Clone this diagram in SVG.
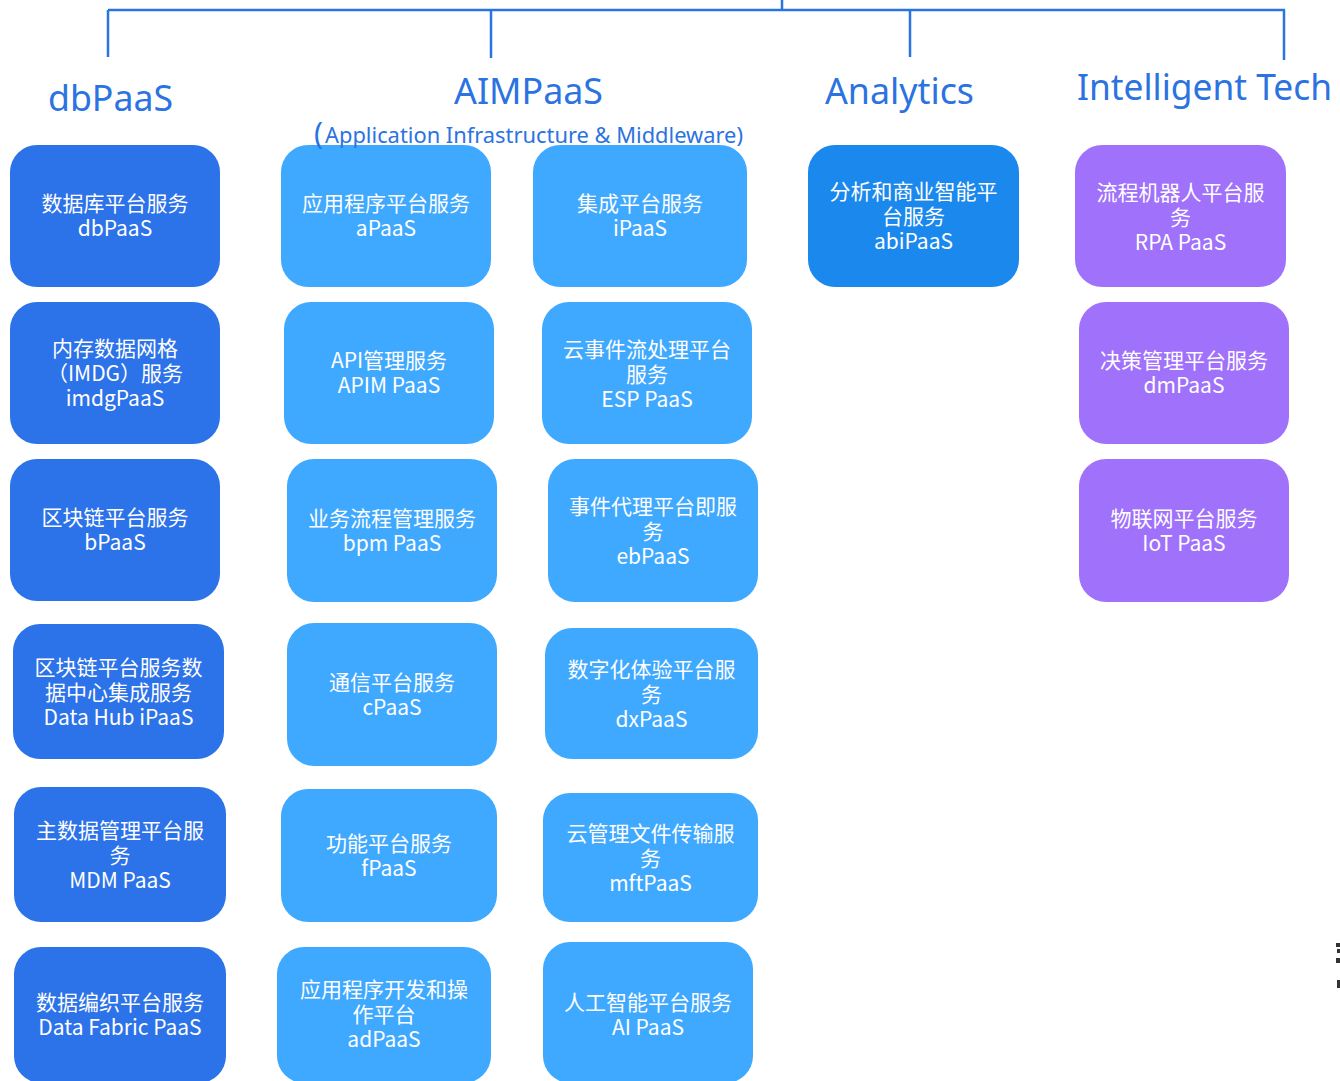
<svg xmlns="http://www.w3.org/2000/svg" width="1340" height="1081" viewBox="0 0 1340 1081">
<style>
.line{stroke:#2a74e2;stroke-width:2.5;fill:none}
.hdr{font-family:"Noto Sans","Noto Sans CJK SC",sans-serif;fill:#2a73e0}
.box{stroke:none}
.db{fill:#2c72e8}
.aim{fill:#3fa9ff}
.ana{fill:#1a88ec}
.it{fill:#a071fb}
.lbl{font-family:"Noto Sans CJK SC","Noto Sans",sans-serif;font-size:21px;fill:#ffffff;text-anchor:middle}
</style>
<rect width="1340" height="1081" fill="#ffffff"/>
<g id="connectors">
<line class="line" x1="108" y1="10" x2="1285" y2="10"/>
<line class="line" x1="782" y1="0" x2="782" y2="10"/>
<line class="line" x1="108" y1="10" x2="108" y2="57"/>
<line class="line" x1="491" y1="10" x2="491" y2="58"/>
<line class="line" x1="910" y1="10" x2="910" y2="57"/>
<line class="line" x1="1284" y1="10" x2="1284" y2="60"/>
</g>
<g id="n-dbpaas"><rect class="box db" x="10" y="145" width="210" height="142" rx="27"/><text class="lbl"><tspan x="115" y="211">数据库平台服务</tspan><tspan x="115" y="236">dbPaaS</tspan></text></g>
<g id="n-imdg"><rect class="box db" x="10" y="302" width="210" height="142" rx="27"/><text class="lbl"><tspan x="115" y="355.5">内存数据网格</tspan><tspan x="115" y="380.5">（IMDG）服务</tspan><tspan x="115" y="405.5">imdgPaaS</tspan></text></g>
<g id="n-bpaas"><rect class="box db" x="10" y="459" width="210" height="142" rx="27"/><text class="lbl"><tspan x="115" y="525">区块链平台服务</tspan><tspan x="115" y="550">bPaaS</tspan></text></g>
<g id="n-datahub"><rect class="box db" x="13" y="624" width="211" height="135" rx="27"/><text class="lbl"><tspan x="118.5" y="674.5">区块链平台服务数</tspan><tspan x="118.5" y="699.5">据中心集成服务</tspan><tspan x="118.5" y="724.5">Data Hub iPaaS</tspan></text></g>
<g id="n-mdm"><rect class="box db" x="14" y="787" width="212" height="135" rx="27"/><text class="lbl"><tspan x="120" y="837.5">主数据管理平台服</tspan><tspan x="120" y="862.5">务</tspan><tspan x="120" y="887.5">MDM PaaS</tspan></text></g>
<g id="n-datafabric"><rect class="box db" x="14" y="947" width="212" height="136" rx="27"/><text class="lbl"><tspan x="120" y="1009.5">数据编织平台服务</tspan><tspan x="120" y="1034.5">Data Fabric PaaS</tspan></text></g>

<g id="n-apaas"><rect class="box aim" x="281" y="145" width="210" height="142" rx="27"/><text class="lbl"><tspan x="386" y="211">应用程序平台服务</tspan><tspan x="386" y="236">aPaaS</tspan></text></g>
<g id="n-apim"><rect class="box aim" x="284" y="302" width="210" height="142" rx="27"/><text class="lbl"><tspan x="389" y="368">API管理服务</tspan><tspan x="389" y="393">APIM PaaS</tspan></text></g>
<g id="n-bpm"><rect class="box aim" x="287" y="459" width="210" height="143" rx="27"/><text class="lbl"><tspan x="392" y="526">业务流程管理服务</tspan><tspan x="392" y="551">bpm PaaS</tspan></text></g>
<g id="n-cpaas"><rect class="box aim" x="287" y="623" width="210" height="143" rx="27"/><text class="lbl"><tspan x="392" y="690">通信平台服务</tspan><tspan x="392" y="715">cPaaS</tspan></text></g>
<g id="n-fpaas"><rect class="box aim" x="281" y="789" width="216" height="133" rx="27"/><text class="lbl"><tspan x="389" y="850.5">功能平台服务</tspan><tspan x="389" y="875.5">fPaaS</tspan></text></g>
<g id="n-adpaas"><rect class="box aim" x="277" y="947" width="214" height="136" rx="27"/><text class="lbl"><tspan x="384" y="996.5">应用程序开发和操</tspan><tspan x="384" y="1021.5">作平台</tspan><tspan x="384" y="1046.5">adPaaS</tspan></text></g>

<g id="n-ipaas"><rect class="box aim" x="533" y="145" width="214" height="142" rx="27"/><text class="lbl"><tspan x="640" y="211">集成平台服务</tspan><tspan x="640" y="236">iPaaS</tspan></text></g>
<g id="n-esp"><rect class="box aim" x="542" y="302" width="210" height="142" rx="27"/><text class="lbl"><tspan x="647" y="356.5">云事件流处理平台</tspan><tspan x="647" y="381.5">服务</tspan><tspan x="647" y="406.5">ESP PaaS</tspan></text></g>
<g id="n-ebpaas"><rect class="box aim" x="548" y="459" width="210" height="143" rx="27"/><text class="lbl"><tspan x="653" y="513.5">事件代理平台即服</tspan><tspan x="653" y="538.5">务</tspan><tspan x="653" y="563.5">ebPaaS</tspan></text></g>
<g id="n-dxpaas"><rect class="box aim" x="545" y="628" width="213" height="131" rx="27"/><text class="lbl"><tspan x="651.5" y="676.5">数字化体验平台服</tspan><tspan x="651.5" y="701.5">务</tspan><tspan x="651.5" y="726.5">dxPaaS</tspan></text></g>
<g id="n-mft"><rect class="box aim" x="543" y="793" width="215" height="129" rx="27"/><text class="lbl"><tspan x="650.5" y="840.5">云管理文件传输服</tspan><tspan x="650.5" y="865.5">务</tspan><tspan x="650.5" y="890.5">mftPaaS</tspan></text></g>
<g id="n-ai"><rect class="box aim" x="543" y="942" width="210" height="141" rx="27"/><text class="lbl"><tspan x="648" y="1009.5">人工智能平台服务</tspan><tspan x="648" y="1034.5">AI PaaS</tspan></text></g>

<g id="n-abi"><rect class="box ana" x="808" y="145" width="211" height="142" rx="27"/><text class="lbl"><tspan x="913.5" y="198.5">分析和商业智能平</tspan><tspan x="913.5" y="223.5">台服务</tspan><tspan x="913.5" y="248.5">abiPaaS</tspan></text></g>

<g id="n-rpa"><rect class="box it" x="1075" y="145" width="211" height="142" rx="27"/><text class="lbl"><tspan x="1180.5" y="199.5">流程机器人平台服</tspan><tspan x="1180.5" y="224.5">务</tspan><tspan x="1180.5" y="249.5">RPA PaaS</tspan></text></g>
<g id="n-dm"><rect class="box it" x="1079" y="302" width="210" height="142" rx="27"/><text class="lbl"><tspan x="1184" y="368">决策管理平台服务</tspan><tspan x="1184" y="393">dmPaaS</tspan></text></g>
<g id="n-iot"><rect class="box it" x="1079" y="459" width="210" height="143" rx="27"/><text class="lbl"><tspan x="1184" y="526">物联网平台服务</tspan><tspan x="1184" y="551">IoT PaaS</tspan></text></g>

<g id="headers">
<text class="hdr" x="48" y="111" font-size="37" textLength="125" lengthAdjust="spacingAndGlyphs">dbPaaS</text>
<text class="hdr" x="454" y="104" font-size="37" textLength="149" lengthAdjust="spacingAndGlyphs">AIMPaaS</text>
<text class="hdr" x="314" y="144" font-size="30">(</text>
<text class="hdr" x="325" y="143" font-size="22" textLength="418" lengthAdjust="spacingAndGlyphs">Application Infrastructure &amp; Middleware)</text>
<text class="hdr" x="825" y="104" font-size="37" textLength="149" lengthAdjust="spacingAndGlyphs">Analytics</text>
<text class="hdr" x="1077" y="100" font-size="37" textLength="255" lengthAdjust="spacingAndGlyphs">Intelligent Tech</text>
</g>
<g id="edge-fragment" fill="#333333">
<rect x="1336" y="943" width="4" height="4"/>
<rect x="1337" y="949" width="3" height="4"/>
<rect x="1336" y="958" width="4" height="5"/>
<rect x="1337" y="980" width="3" height="8"/>
</g>
</svg>
